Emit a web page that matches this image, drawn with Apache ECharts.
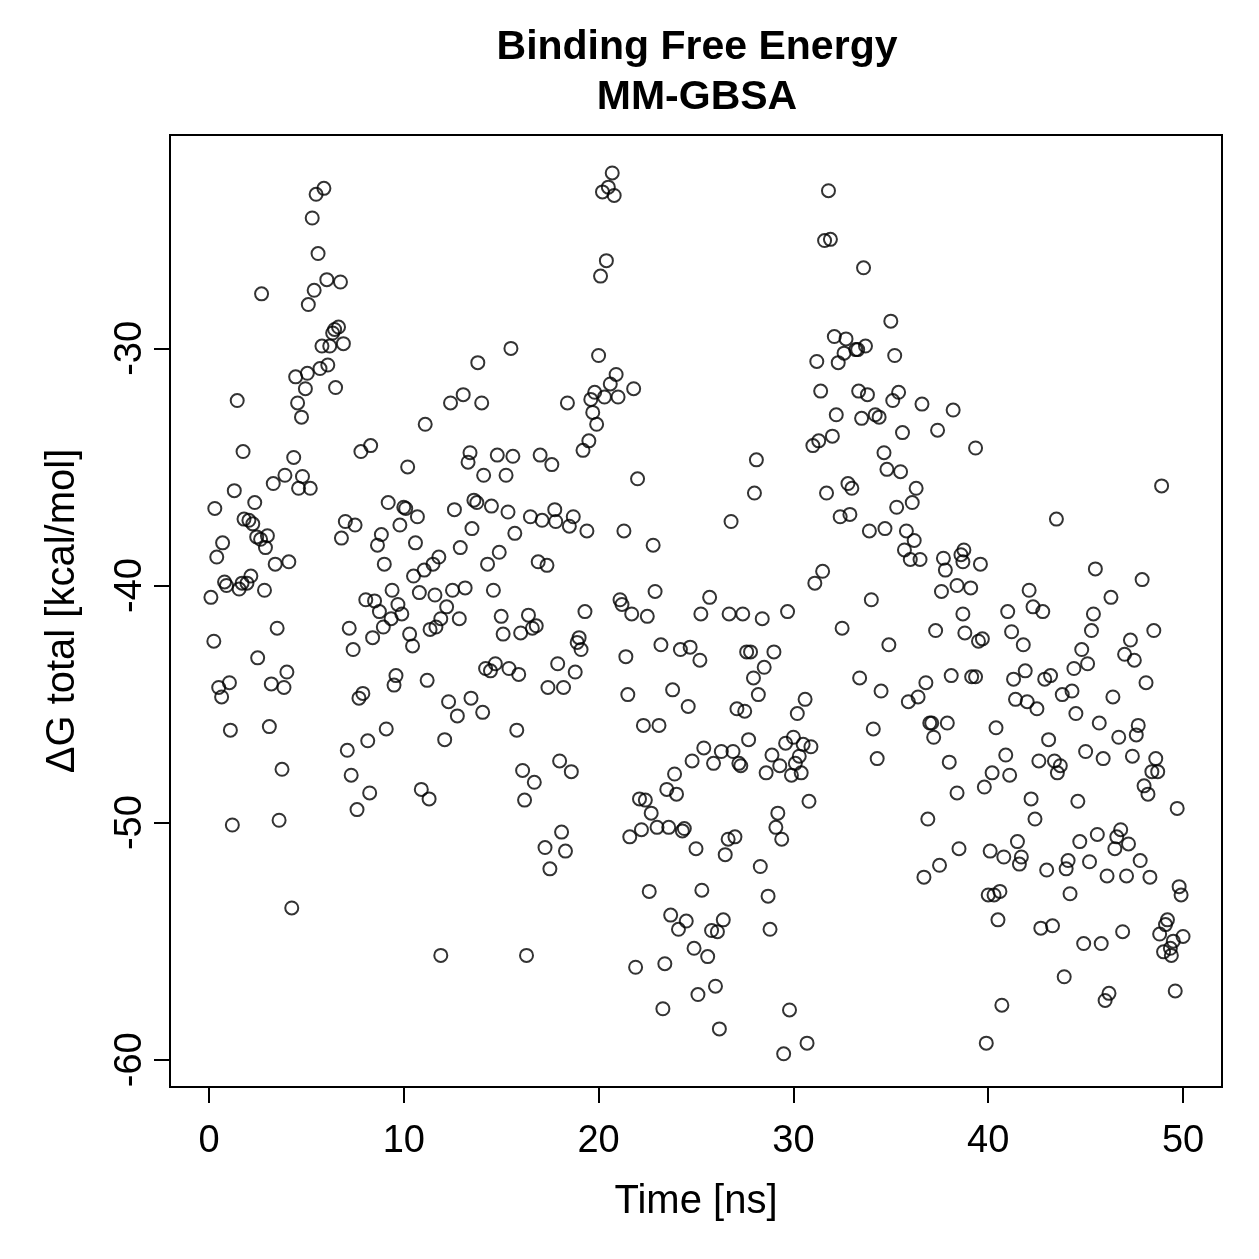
<!DOCTYPE html>
<html>
<head>
<meta charset="utf-8">
<script src="https://cdn.jsdelivr.net/npm/echarts@6/dist/echarts.min.js"></script>
<style>html,body{margin:0;padding:0;background:#fff;}#c{width:1259px;height:1259px;}</style>
</head>
<body>
<div id="c"></div>
<script>
const time = [
0.1,0.25,0.3,0.4,0.5,0.65,0.7,0.8,0.9,1.05,1.1,1.2,1.3,1.45,1.55,1.7,1.75,1.8,1.95,2.05,2.15,2.25,2.35,2.45,2.5,2.65,2.7,2.85,2.9,3.0,
3.1,3.2,3.3,3.4,3.5,3.6,3.75,3.85,3.9,4.0,4.1,4.25,4.35,4.45,4.55,4.6,4.75,4.8,4.95,5.05,5.1,5.2,5.3,5.4,5.5,5.6,5.7,5.8,5.9,6.05,
6.1,6.2,6.35,6.45,6.5,6.65,6.75,6.8,6.9,7.0,7.1,7.2,7.3,7.4,7.5,7.6,7.7,7.8,7.9,8.05,8.15,8.25,8.3,8.4,8.5,8.65,8.75,8.85,8.95,9.0,
9.1,9.2,9.35,9.4,9.5,9.6,9.7,9.8,9.9,10.0,10.1,10.2,10.3,10.45,10.5,10.6,10.7,10.8,10.9,11.05,11.1,11.2,11.3,11.35,11.5,11.6,11.65,11.8,11.9,11.9,
12.1,12.2,12.3,12.4,12.5,12.6,12.75,12.85,12.9,13.05,13.15,13.3,13.4,13.45,13.5,13.6,13.75,13.8,14.0,14.05,14.1,14.2,14.3,14.45,14.5,14.6,14.7,14.8,14.9,15.0,
15.1,15.25,15.35,15.4,15.5,15.6,15.7,15.8,15.9,16.0,16.1,16.2,16.3,16.4,16.5,16.6,16.7,16.8,16.9,17.0,17.1,17.25,17.35,17.4,17.5,17.6,17.75,17.8,17.9,18.0,
18.1,18.2,18.3,18.4,18.5,18.6,18.7,18.8,18.9,19.0,19.1,19.2,19.3,19.4,19.5,19.6,19.7,19.8,19.9,20.0,20.1,20.2,20.3,20.4,20.5,20.6,20.7,20.8,20.9,21.0,
21.1,21.2,21.3,21.4,21.5,21.6,21.7,21.8,21.9,22.0,22.1,22.2,22.3,22.4,22.5,22.6,22.7,22.8,22.9,23.0,23.1,23.2,23.3,23.4,23.5,23.6,23.7,23.8,23.9,24.0,
24.1,24.2,24.3,24.4,24.5,24.6,24.7,24.8,24.9,25.0,25.1,25.2,25.25,25.3,25.4,25.6,25.7,25.8,25.9,26.0,26.1,26.2,26.3,26.4,26.5,26.65,26.7,26.8,26.9,27.0,
27.1,27.2,27.3,27.4,27.5,27.6,27.7,27.8,27.95,28.0,28.1,28.2,28.3,28.4,28.5,28.6,28.7,28.8,28.9,29.0,29.1,29.2,29.3,29.4,29.5,29.6,29.7,29.8,29.9,30.0,
30.1,30.2,30.3,30.4,30.5,30.6,30.7,30.8,30.9,31.0,31.1,31.2,31.3,31.4,31.5,31.6,31.7,31.8,31.9,32.0,32.1,32.2,32.3,32.4,32.5,32.6,32.7,32.8,32.9,33.0,
33.2,33.3,33.35,33.4,33.5,33.6,33.7,33.8,33.9,34.0,34.1,34.2,34.3,34.4,34.5,34.65,34.7,34.8,34.9,35.0,35.1,35.2,35.3,35.4,35.5,35.6,35.7,35.8,35.9,36.0,
36.1,36.2,36.3,36.4,36.5,36.6,36.7,36.8,36.9,37.0,37.1,37.2,37.3,37.4,37.5,37.6,37.7,37.8,37.9,38.0,38.1,38.2,38.4,38.4,38.5,38.6,38.7,38.75,38.7,38.8,
39.1,39.15,39.35,39.35,39.5,39.6,39.7,39.8,39.9,40.0,40.1,40.2,40.3,40.4,40.5,40.6,40.7,40.8,40.9,41.0,41.1,41.2,41.3,41.4,41.5,41.6,41.7,41.8,41.9,42.0,
42.1,42.2,42.3,42.4,42.5,42.6,42.7,42.8,42.9,43.0,43.1,43.2,43.3,43.4,43.5,43.55,43.7,43.8,43.9,44.0,44.1,44.2,44.3,44.4,44.5,44.6,44.7,44.8,44.9,45.0,
45.1,45.2,45.3,45.4,45.5,45.6,45.7,45.8,45.9,46.0,46.1,46.2,46.3,46.4,46.5,46.6,46.7,46.8,46.9,47.0,47.1,47.2,47.3,47.4,47.5,47.6,47.7,47.8,47.9,48.0,
48.1,48.2,48.3,48.4,48.5,48.6,48.7,48.8,48.9,49.0,49.1,49.2,49.35,49.4,49.5,49.6,49.7,49.8,49.9,50.0
];
const dG = [
-40.5,-42.35,-36.75,-38.8,-44.3,-44.7,-38.2,-39.85,-40.0,-44.1,-46.1,-50.1,-36.0,-32.2,-40.15,-39.9,-34.35,-37.2,-39.9,-37.25,-39.6,-37.4,-36.5,-37.95,-43.05,-38.05,-27.7,-40.2,-38.4,-37.9,
-45.95,-44.15,-35.7,-39.1,-41.8,-49.9,-47.75,-44.3,-35.35,-43.65,-39.0,-53.6,-34.6,-31.2,-32.3,-35.9,-32.9,-35.4,-31.7,-31.05,-28.15,-35.9,-24.5,-27.55,-23.5,-26.0,-30.85,-29.9,-23.25,-27.1,
-30.7,-29.9,-29.35,-29.2,-31.65,-29.1,-27.2,-38.0,-29.8,-37.3,-46.95,-41.8,-48.0,-42.7,-37.45,-49.45,-44.75,-34.35,-44.55,-40.6,-46.55,-48.75,-34.1,-42.2,-40.65,-38.3,-41.1,-37.85,-41.75,-39.1,
-46.05,-36.5,-41.4,-40.2,-44.2,-43.8,-40.8,-37.45,-41.2,-36.7,-36.75,-35.0,-42.05,-42.55,-39.6,-38.2,-37.1,-40.3,-48.6,-39.35,-33.2,-44.0,-49.0,-41.85,-39.1,-40.4,-41.75,-38.8,-41.4,-55.6,
-46.5,-40.9,-44.9,-32.3,-40.2,-36.8,-45.5,-41.4,-38.4,-31.95,-40.1,-34.8,-34.4,-44.75,-37.6,-36.4,-36.5,-30.6,-32.3,-45.35,-35.35,-43.5,-39.1,-43.6,-36.65,-40.2,-43.3,-34.5,-38.6,-41.3,
-42.05,-35.35,-36.9,-43.5,-30.0,-34.55,-37.8,-46.1,-43.75,-42.0,-47.8,-49.05,-55.6,-41.25,-37.1,-41.8,-48.3,-41.7,-39.0,-34.5,-37.25,-51.05,-39.15,-44.3,-51.95,-34.9,-36.8,-37.3,-43.3,-47.4,
-50.4,-44.3,-51.2,-32.3,-37.5,-47.85,-37.1,-43.65,-42.4,-42.2,-42.7,-34.3,-41.1,-37.7,-33.9,-32.15,-32.7,-31.85,-33.2,-30.3,-26.95,-23.4,-32.05,-26.3,-23.2,-31.5,-22.6,-23.55,-31.1,-32.05,
-40.6,-40.8,-37.7,-43.0,-44.6,-50.6,-41.2,-31.7,-56.1,-35.5,-49.0,-50.3,-45.9,-49.05,-41.3,-52.9,-49.6,-38.3,-40.25,-50.2,-45.9,-42.5,-57.85,-55.95,-48.6,-50.2,-53.9,-44.4,-47.95,-48.8,
-54.5,-42.7,-50.35,-50.25,-54.15,-45.1,-42.6,-47.4,-55.3,-51.1,-57.25,-43.15,-41.2,-52.85,-46.85,-55.65,-40.5,-54.55,-47.5,-56.9,-54.6,-58.7,-47.0,-54.1,-51.35,-50.7,-41.2,-37.3,-47.0,-50.6,
-45.2,-47.5,-47.6,-41.2,-45.3,-42.8,-46.5,-42.8,-43.9,-36.1,-34.7,-44.6,-51.85,-41.4,-43.45,-47.9,-53.1,-54.5,-47.15,-42.8,-50.2,-49.6,-47.6,-50.7,-59.75,-46.65,-41.1,-57.9,-48.0,-46.4,
-47.5,-45.4,-47.2,-47.9,-46.7,-44.8,-59.3,-49.1,-46.8,-34.1,-39.9,-30.55,-33.9,-31.8,-39.4,-25.45,-36.1,-23.35,-25.4,-33.7,-29.5,-32.8,-30.6,-37.1,-41.8,-30.2,-29.6,-35.7,-37.0,-35.9,
-30.05,-30.05,-31.8,-43.9,-32.95,-26.6,-29.9,-31.95,-37.7,-40.6,-46.05,-32.8,-47.3,-32.9,-44.45,-34.4,-37.6,-35.1,-42.5,-28.85,-32.2,-30.3,-36.7,-31.85,-35.2,-33.55,-38.5,-37.7,-44.9,-38.9,
-36.5,-38.1,-35.9,-44.7,-38.9,-32.35,-52.3,-44.1,-49.85,-45.8,-45.8,-46.4,-41.9,-33.45,-51.8,-40.25,-38.85,-39.35,-45.8,-47.45,-43.8,-32.6,-40.0,-48.75,-51.1,-38.7,-39.0,-38.5,-41.2,-42.0,
-40.1,-43.85,-43.85,-34.2,-42.35,-39.1,-42.25,-48.5,-59.3,-53.05,-51.2,-47.9,-53.05,-46.0,-54.1,-52.9,-57.7,-51.45,-47.15,-41.1,-48.0,-41.95,-43.95,-44.8,-50.8,-51.75,-51.45,-42.5,-43.6,-44.9,
-40.2,-49.0,-40.9,-49.85,-45.2,-47.4,-54.45,-41.1,-43.95,-52.0,-46.5,-43.8,-54.35,-47.4,-37.2,-47.9,-47.6,-44.6,-56.5,-51.95,-51.6,-53.0,-44.45,-43.5,-45.4,-49.1,-50.8,-42.7,-55.1,-47.0,
-43.3,-51.65,-41.9,-41.2,-39.3,-50.5,-45.8,-55.1,-47.3,-57.5,-52.25,-57.2,-40.5,-44.7,-51.1,-50.6,-46.4,-50.3,-54.6,-42.9,-52.25,-50.9,-42.3,-47.2,-43.15,-46.3,-45.9,-51.6,-39.75,-48.45,
-44.1,-48.8,-52.3,-47.85,-41.9,-47.3,-47.85,-54.7,-35.8,-55.45,-54.3,-54.1,-55.3,-55.6,-55.0,-57.1,-49.4,-52.7,-53.05,-54.8
];
const xTicks = [0, 10, 20, 30, 40, 50];
const yTicks = [-60, -50, -40, -30];
const chartTitle = 'Binding Free Energy\nMM-GBSA';
const xName = 'Time [ns]';
const yName = '\u0394G total [kcal/mol]';

const n = Math.min(time.length, dG.length);
const points = [];
for (let i = 0; i < n; i++) points.push([time[i], dG[i]]);

const font = "'Liberation Sans', Arial, Helvetica, sans-serif";
const chart = echarts.init(document.getElementById('c'), null, {renderer: 'canvas'});
chart.setOption({
  animation: false,
  backgroundColor: '#ffffff',
  title: {
    text: chartTitle,
    left: 692, top: 18, textAlign: 'center',
    textStyle: {fontFamily: font, fontSize: 41, fontWeight: 'bold', color: '#000', lineHeight: 50}
  },
  grid: {left: 170, top: 135, width: 1052, height: 952, show: true, borderColor: '#000', borderWidth: 2, backgroundColor: 'transparent'},
  xAxis: {
    type: 'value', min: -2, max: 52,
    name: xName, nameLocation: 'middle', nameGap: 95,
    nameTextStyle: {fontFamily: font, fontSize: 40, color: '#000'},
    axisLine: {show: false, onZero: false},
    axisTick: {show: true, length: 16, lineStyle: {color: '#000', width: 2}, customValues: xTicks},
    axisLabel: {fontFamily: font, fontSize: 38, color: '#000', margin: 36, customValues: xTicks},
    splitLine: {show: false}
  },
  yAxis: {
    type: 'value', min: -61.15, max: -21.0,
    name: yName, nameLocation: 'middle', nameGap: 87, nameRotate: 90,
    nameTextStyle: {fontFamily: font, fontSize: 40, color: '#000'},
    axisLine: {show: false, onZero: false},
    axisTick: {show: true, length: 16, lineStyle: {color: '#000', width: 2}, customValues: yTicks},
    axisLabel: {fontFamily: font, fontSize: 38, color: '#000', margin: 20, rotate: 90, customValues: yTicks},
    splitLine: {show: false}
  },
  series: [{
    type: 'scatter',
    data: points,
    symbol: 'circle',
    symbolSize: 13,
    itemStyle: {color: 'rgba(0,0,0,0)', borderColor: '#000', borderWidth: 2},
    emphasis: {disabled: true}
  }]
});
</script>
</body>
</html>
